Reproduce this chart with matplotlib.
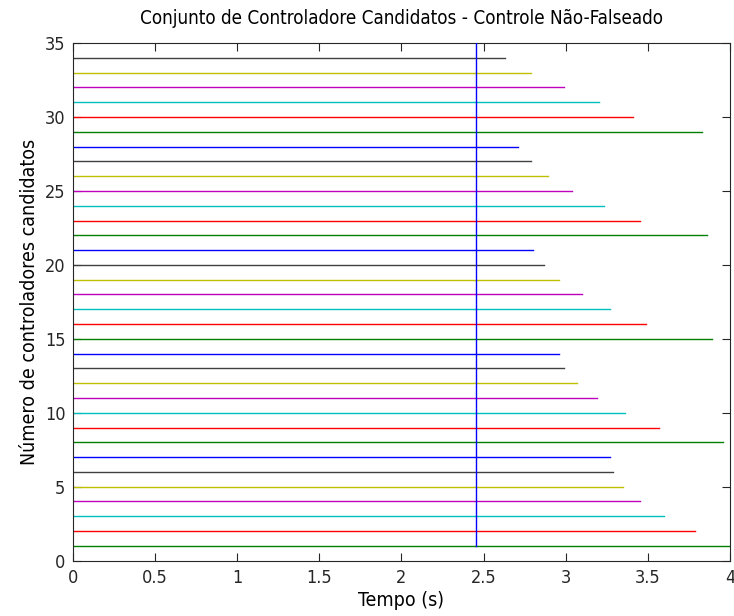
import matplotlib
matplotlib.use("Agg")
import matplotlib.pyplot as plt

plt.rcParams.update({
    'font.family': ['DejaVu Sans'],
    'font.stretch': 'condensed',
    'font.size': 12,
    'xtick.direction': 'in',
    'ytick.direction': 'in',
    'xtick.top': True,
    'ytick.right': True,
})

# ── Data ──────────────────────────────────────────────────────────
# candidate index (y) and end time (s) of each horizontal line
CANDIDATES = list(range(1, 35))
END_TIMES = [4.00, 3.79, 3.60, 3.45, 3.35, 3.29, 3.27, 3.96, 3.57, 3.36,
             3.19, 3.07, 2.99, 2.96, 3.89, 3.49, 3.27, 3.10, 2.96, 2.87,
             2.80, 3.86, 3.45, 3.23, 3.04, 2.89, 2.79, 2.71, 3.83, 3.41,
             3.20, 2.99, 2.79, 2.63]
T_CUT = 2.455
CUT_Y = [1, 35]

# MATLAB (pre-2014) default colour order
COLOR_ORDER = [(0, 0, 1), (0, 0.5, 0), (1, 0, 0), (0, 0.75, 0.75),
               (0.75, 0, 0.75), (0.75, 0.75, 0), (0.25, 0.25, 0.25)]

XTICKS = [0, 0.5, 1, 1.5, 2, 2.5, 3, 3.5, 4]
XTICK_LABELS = ['0', '0.5', '1', '1.5', '2', '2.5', '3', '3.5', '4']
YTICKS = [0, 5, 10, 15, 20, 25, 30, 35]

# ── Figure ────────────────────────────────────────────────────────
fig = plt.figure(figsize=(7.34, 6.16), dpi=100)
ax = fig.add_axes([0.0995, 0.090, 0.895, 0.840])

ax.plot([T_CUT, T_CUT], CUT_Y, color=COLOR_ORDER[0], lw=1.0, zorder=3)
for i, (y, t) in enumerate(zip(CANDIDATES, END_TIMES)):
    c = COLOR_ORDER[(i + 1) % len(COLOR_ORDER)]
    ax.plot([0, t], [y, y], color=c, lw=1.0, zorder=2)

ax.set_xlim(0, 4)
ax.set_ylim(0, 35)
ax.set_xticks(XTICKS)
ax.set_xticklabels(XTICK_LABELS)
ax.set_yticks(YTICKS)
ax.tick_params(length=6, width=0.8, labelsize=13, colors='0.15')
ax.tick_params(axis='x', pad=6)
ax.tick_params(axis='y', pad=5.5)
for s in ax.spines.values():
    s.set_linewidth(0.8)
    s.set_color('0.15')

ax.set_xlabel("Tempo (s)", fontsize=14, labelpad=3)
ax.set_ylabel("Número de controladores candidatos", fontsize=14, labelpad=4)
ax.set_title("Conjunto de Controladore Candidatos - Controle Não-Falseado",
             fontsize=13.5, pad=13.5)

fig.savefig("out.png", dpi=100)
